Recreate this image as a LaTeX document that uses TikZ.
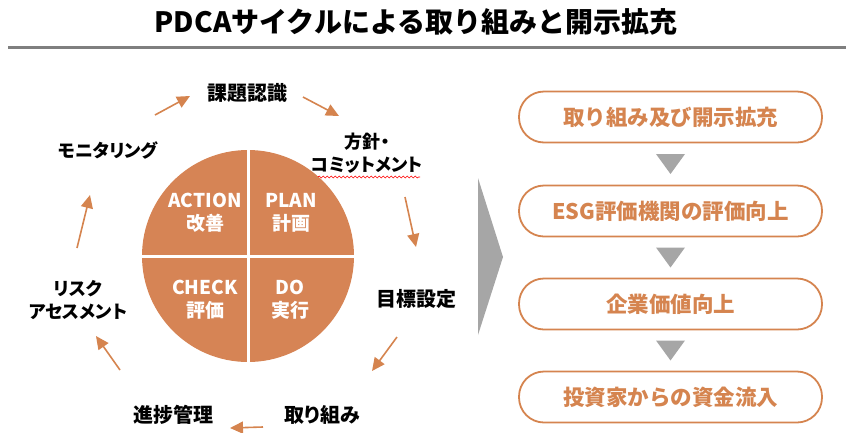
\documentclass[tikz,border=0pt]{standalone}
\usepackage{fontspec}
\setmainfont{Noto Sans CJK JP}
\newfontfamily\jpp{Noto Sans CJK JP}[RawFeature=+palt]
\usetikzlibrary{arrows.meta,decorations.pathmorphing,calc}
\definecolor{org}{HTML}{D5844F}
\definecolor{circfill}{HTML}{D68455}
\definecolor{midgray}{HTML}{A6A6A6}
\definecolor{rulegray}{HTML}{7F7F7F}
\begin{document}
\begin{tikzpicture}[x=1pt,y=-1pt,
 lbl/.style={font=\jpp\fontsize{18}{23}\selectfont\bfseries, text=black, align=center, inner sep=0pt},
 klbl/.style={lbl, font=\jpp\fontsize{20}{23}\selectfont\bfseries},
 arr/.style={draw=org, line width=1.6pt, -{Triangle[length=13pt,width=12pt]}},
 qtext/.style={font=\fontsize{19}{23}\selectfont\bfseries, text=white, align=center, inner sep=0pt},
 stepbox/.style={draw=org, line width=1.8pt, fill=white, rounded corners=25pt, minimum width=303pt, minimum height=51pt, text=org, font=\fontsize{21.5}{24}\selectfont\bfseries},
 downtri/.style={fill=midgray}]
\useasboundingbox (0,0) rectangle (846,432);
% title
\node[font=\fontsize{28}{30}\selectfont\bfseries, inner sep=0pt] (title) at (416,22) {PDCAサイクルによる取り組みと開示拡充};
\coordinate (r1) at (8,47);
\coordinate (r2) at (846,47);
\draw[line width=3pt, draw=rulegray] (r1) -- (r2);
% circle
\coordinate (c) at (248,256);
\fill[circfill] (c) circle[radius=106pt];
\draw[white, line width=3pt] ($(c)+(0,-107)$) -- ($(c)+(0,107)$);
\draw[white, line width=3pt] ($(c)+(-107,0)$) -- ($(c)+(107,0)$);
\node[qtext] (act) at (205,213) {ACTION\\改善};
\node[qtext] (plan) at (291,213) {PLAN\\計画};
\node[qtext] (chk) at (205,300) {CHECK\\評価};
\node[qtext] (do) at (290,300) {DO\\実行};
% labels
\node[klbl] (l1) at (247,93) {課題認識};
\node[lbl] (l2) at (367,153) {方針・\\コミットメント};
\node[klbl] (l3) at (416,299) {目標設定};
\node[klbl] (l4) at (322,415) {取り組み};
\node[klbl] (l5) at (173,415) {進捗管理};
\node[lbl] (l6) at (78,300) {リスク\\アセスメント};
\node[lbl] (l7) at (108,150) {モニタリング};
\draw[red, line width=0.6pt, decorate, decoration={snake, amplitude=1pt, segment length=4pt}] (318,177) -- (420,177);
% arrows
\coordinate (a1s) at (155,115); \coordinate (a1e) at (190,96);
\coordinate (a2s) at (303,97);  \coordinate (a2e) at (339,116);
\coordinate (a3s) at (405,197); \coordinate (a3e) at (416,247);
\coordinate (a4s) at (397,337); \coordinate (a4e) at (372,371);
\coordinate (a5s) at (263,427); \coordinate (a5e) at (230,428);
\coordinate (a6s) at (120,370); \coordinate (a6e) at (96,336);
\coordinate (a7s) at (77,248);  \coordinate (a7e) at (90,195);
\draw[arr] (a1s) -- (a1e);
\draw[arr] (a2s) -- (a2e);
\draw[arr] (a3s) -- (a3e);
\draw[arr] (a4s) -- (a4e);
\draw[arr] (a5s) -- (a5e);
\draw[arr] (a6s) -- (a6e);
\draw[arr] (a7s) -- (a7e);
% chevron
\fill[midgray] (478,178) -- (503,257) -- (478,335) -- cycle;
% boxes
\node[stepbox] (b1) at (670.5,117) {取り組み及び開示拡充};
\node[stepbox] (b2) at (670.5,211) {ESG評価機関の評価向上};
\node[stepbox] (b3) at (670.5,304) {企業価値向上};
\node[stepbox] (b4) at (670.5,397) {投資家からの資金流入};
\foreach \u/\v [count=\i] in {b1/b2,b2/b3,b3/b4}{
  \coordinate (m\i) at ($(\u.south)!0.5!(\v.north)$);
  \fill[downtri] ($(m\i)+(-14.5,-10)$) -- ($(m\i)+(14.5,-10)$) -- ($(m\i)+(0,10)$) -- cycle;
}
\end{tikzpicture}
\end{document}
